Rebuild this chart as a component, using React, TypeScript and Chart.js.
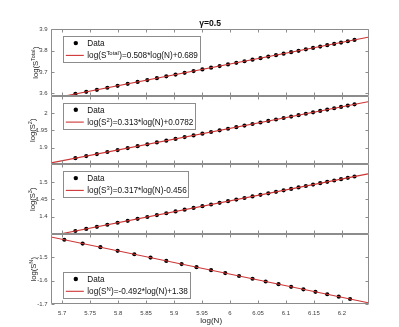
import React, { useEffect, useRef } from 'react';
import { Chart, registerables } from 'chart.js';
Chart.register(...registerables);

// ---------- data ----------
const logN_A = [5.72359, 5.743, 5.76205, 5.78074, 5.79909, 5.81711, 5.83481, 5.8522, 5.8693, 5.8861, 5.90263, 5.91889, 5.93489, 5.95064, 5.96615, 5.98141, 5.99645, 6.01127, 6.02587, 6.04025, 6.05444, 6.06843, 6.08222, 6.09583, 6.10925, 6.1225, 6.13557, 6.14847, 6.16121, 6.17379, 6.18621, 6.19848, 6.2106, 6.22258];
const logN_B = [5.70378, 5.73657, 5.76832, 5.79909, 5.82895, 5.85793, 5.8861, 5.9135, 5.94017, 5.96615, 5.99146, 6.01616, 6.04025, 6.06379, 6.08677, 6.10925, 6.13123, 6.15273, 6.17379, 6.19441, 6.21461];

const sTotal = [3.5966, 3.6064, 3.6161, 3.6256, 3.6349, 3.6441, 3.6531, 3.6619, 3.6706, 3.6791, 3.6875, 3.6958, 3.7039, 3.7119, 3.7198, 3.7276, 3.7352, 3.7427, 3.7501, 3.7575, 3.7647, 3.7718, 3.7788, 3.7857, 3.7925, 3.7992, 3.8059, 3.8124, 3.8189, 3.8253, 3.8316, 3.8378, 3.844, 3.8501];
const s2 = [1.8697, 1.8758, 1.8817, 1.8876, 1.8933, 1.899, 1.9045, 1.9099, 1.9153, 1.9206, 1.9257, 1.9308, 1.9358, 1.9408, 1.9456, 1.9504, 1.9551, 1.9597, 1.9643, 1.9688, 1.9732, 1.9776, 1.9819, 1.9862, 1.9904, 1.9945, 1.9986, 2.0027, 2.0067, 2.0106, 2.0145, 2.0183, 2.0221, 2.0259];
const s3 = [1.3584, 1.3645, 1.3706, 1.3765, 1.3823, 1.388, 1.3936, 1.3991, 1.4046, 1.4099, 1.4151, 1.4203, 1.4254, 1.4304, 1.4353, 1.4401, 1.4449, 1.4496, 1.4542, 1.4588, 1.4633, 1.4677, 1.4721, 1.4764, 1.4806, 1.4848, 1.489, 1.4931, 1.4971, 1.5011, 1.505, 1.5089, 1.5128, 1.5166];
const sN = [-1.4263, -1.4424, -1.458, -1.4732, -1.4878, -1.5021, -1.516, -1.5294, -1.5426, -1.5553, -1.5678, -1.58, -1.5918, -1.6034, -1.6147, -1.6258, -1.6366, -1.6471, -1.6575, -1.6676, -1.6776];

const slopes = [0.508, 0.313, 0.317, -0.492];
const intercepts = [0.689, 0.0782, -0.456, 1.38];
const supLabels = ['Total', '2', '3', 'N'];

const xRange = [5.68, 6.249];
const xTicks = [5.7, 5.75, 5.8, 5.85, 5.9, 5.95, 6, 6.05, 6.1, 6.15, 6.2];
const xTickLabels = ['5.7', '5.75', '5.8', '5.85', '5.9', '5.95', '6', '6.05', '6.1', '6.15', '6.2'];

const yRange1 = [3.587, 3.9];
const yRange2 = [1.852, 2.05];
const yRange3 = [1.3497, 1.552];
const yRange4 = [-1.7, -1.402];
const yTicks1 = [3.6, 3.7, 3.8, 3.9];
const yTicks2 = [1.9, 1.95, 2];
const yTicks3 = [1.4, 1.45, 1.5];
const yTicks4 = [-1.7, -1.6, -1.5];
const yTickLabels1 = ['3.6', '3.7', '3.8', '3.9'];
const yTickLabels2 = ['1.9', '1.95', '2'];
const yTickLabels3 = ['1.4', '1.45', '1.5'];
const yTickLabels4 = ['-1.7', '-1.6', '-1.5'];

const titleText = 'γ=0.5';
const xTitle = 'log(N)';
const dataLabel = 'Data';

// ---------- styling ----------
const FONT = '"Liberation Sans", Arial, Helvetica, sans-serif';
const AXIS_COLOR = '#8c8c8c';
const TICK_TEXT = '#404040';
const LINE_COLOR = 'rgb(206, 52, 52)';
const TICK_FONT_SIZE = 6;
const TICK_PAD = 3.5;
const panelWeights = [66.7, 68.3, 69.7, 70.3];
const legendSouth = [false, false, false, true];

type Part = { t: string; sup?: boolean };

function drawRich(ctx: CanvasRenderingContext2D, x: number, y: number, parts: Part[], base: number, measureOnly = false) {
  let cx = x;
  for (const p of parts) {
    const size = p.sup ? base * 0.72 : base;
    ctx.font = `${size}px ${FONT}`;
    const dy = p.sup ? -base * 0.42 : 0;
    if (!measureOnly) ctx.fillText(p.t, cx, y + dy);
    cx += ctx.measureText(p.t).width + (p.sup ? 0.3 : 0);
  }
  return cx - x;
}

function fmtSigned(v: number) {
  return v >= 0 ? '+' + String(v) : String(v);
}

export default function App() {
  const ref = useRef<HTMLCanvasElement | null>(null);

  useEffect(() => {
    if (!ref.current) return;
    const ids = ['y1', 'y2', 'y3', 'y4'];
    const ranges = [yRange1, yRange2, yRange3, yRange4];
    const ticks = [yTicks1, yTicks2, yTicks3, yTicks4];
    const tickLabels = [yTickLabels1, yTickLabels2, yTickLabels3, yTickLabels4];
    const series = [sTotal, s2, s3, sN];
    const xsFor = [logN_A, logN_A, logN_A, logN_B];

    const datasets: any[] = [];
    series.forEach((s, i) => {
      datasets.push({
        type: 'scatter',
        label: dataLabel,
        data: s.map((v, k) => ({ x: xsFor[i][k], y: v })),
        yAxisID: ids[i],
        xAxisID: 'x',
        backgroundColor: '#000',
        borderColor: '#000',
        pointRadius: 2.1,
        pointBorderWidth: 0,
        showLine: false,
        order: 2,
      });
      datasets.push({
        type: 'line',
        label: 'fit',
        data: xRange.map((x) => ({ x, y: slopes[i] * x + intercepts[i] })),
        yAxisID: ids[i],
        xAxisID: 'x',
        borderColor: LINE_COLOR,
        borderWidth: 1.1,
        pointRadius: 0,
        fill: false,
        order: 1,
      });
    });

    const scales: any = {
      x: {
        type: 'linear',
        position: 'bottom',
        min: xRange[0],
        max: xRange[1],
        afterBuildTicks: (sc: any) => {
          sc.ticks = xTicks.map((v) => ({ value: v }));
        },
        afterFit: (sc: any) => {
          sc.height = 22.7;
        },
        grid: { display: false, drawTicks: false },
        border: { display: false },
        ticks: {
          autoSkip: false,
          maxRotation: 0,
          padding: 5,
          color: TICK_TEXT,
          font: { family: FONT, size: TICK_FONT_SIZE },
          callback: (_v: any, idx: number) => xTickLabels[idx],
        },
      },
    };
    ids.forEach((id, i) => {
      scales[id] = {
        type: 'linear',
        position: 'left',
        stack: 'panels',
        stackWeight: panelWeights[i],
        weight: 4 - i,
        offset: false,
        min: ranges[i][0],
        max: ranges[i][1],
        afterBuildTicks: (sc: any) => {
          sc.ticks = ticks[i].map((v) => ({ value: v }));
        },
        afterFit: (sc: any) => {
          sc.width = 51;
        },
        grid: { display: false, drawTicks: false },
        border: { display: false },
        ticks: {
          padding: TICK_PAD,
          color: TICK_TEXT,
          font: { family: FONT, size: TICK_FONT_SIZE },
          callback: (_v: any, idx: number) => tickLabels[i][idx],
        },
      };
    });

    const panelPlugin = {
      id: 'panelPlugin',
      beforeDatasetDraw(chart: any, args: any) {
        const ctx = chart.ctx;
        const ys = args.meta.yScale;
        const a = chart.chartArea;
        ctx.save();
        ctx.beginPath();
        ctx.rect(a.left, ys.top, a.right - a.left, ys.bottom - ys.top);
        ctx.clip();
      },
      afterDatasetDraw(chart: any) {
        chart.ctx.restore();
      },
      afterDraw(chart: any) {
        const ctx: CanvasRenderingContext2D = chart.ctx;
        const a = chart.chartArea;
        const xs = chart.scales.x;
        ctx.save();
        const L = Math.round(a.left) + 0.5;
        const R = Math.round(a.right) - 0.5;
        ids.forEach((id, i) => {
          const ys = chart.scales[id];
          const T = Math.round(ys.top) + 0.5;
          const B = Math.round(ys.bottom) - 0.5;
          ctx.strokeStyle = AXIS_COLOR;
          ctx.lineWidth = 1;
          ctx.beginPath();
          ctx.rect(L, T, R - L, B - T);
          ctx.stroke();
          ctx.beginPath();
          xTicks.forEach((v) => {
            const px = Math.round(xs.getPixelForValue(v)) + 0.5;
            ctx.moveTo(px, T);
            ctx.lineTo(px, T + 3);
            ctx.moveTo(px, B);
            ctx.lineTo(px, B - 3);
          });
          ticks[i].forEach((v) => {
            const py = Math.round(ys.getPixelForValue(v)) + 0.5;
            ctx.moveTo(L, py);
            ctx.lineTo(L + 3, py);
            ctx.moveTo(R, py);
            ctx.lineTo(R - 3, py);
          });
          ctx.stroke();

          // legend
          const base = 8.2;
          const eqParts: Part[] = [
            { t: 'log(S' },
            { t: supLabels[i], sup: true },
            { t: ')=' + String(slopes[i]) + '*log(N)' + fmtSigned(intercepts[i]) },
          ];
          const tw = drawRich(ctx, 0, 0, eqParts, base, true);
          const bw = 24 + tw + 2;
          const bh = 26.3;
          const bx = a.left + 12.3;
          const by = legendSouth[i] ? ys.bottom - 6 - bh : ys.top + 6.8;
          ctx.fillStyle = '#fff';
          ctx.fillRect(bx, by, bw, bh);
          ctx.strokeStyle = AXIS_COLOR;
          ctx.strokeRect(Math.round(bx) + 0.5, Math.round(by) + 0.5, Math.round(bw), Math.round(bh));
          const r1 = by + 7;
          const r2 = by + 19.3;
          ctx.fillStyle = '#000';
          ctx.beginPath();
          ctx.arc(bx + 12.5, r1, 2.2, 0, Math.PI * 2);
          ctx.fill();
          ctx.strokeStyle = LINE_COLOR;
          ctx.lineWidth = 1.1;
          ctx.beginPath();
          ctx.moveTo(bx + 2.5, r2);
          ctx.lineTo(bx + 20.5, r2);
          ctx.stroke();
          ctx.fillStyle = '#111';
          ctx.textBaseline = 'alphabetic';
          ctx.textAlign = 'left';
          drawRich(ctx, bx + 24, r1 + 3, [{ t: dataLabel }], base);
          drawRich(ctx, bx + 24, r2 + 3, eqParts, base);

          // y label, placed left of the widest tick label
          ctx.font = `${TICK_FONT_SIZE}px ${FONT}`;
          let maxW = 0;
          tickLabels[i].forEach((s) => {
            maxW = Math.max(maxW, ctx.measureText(s).width);
          });
          const labelX = a.left - TICK_PAD - maxW - 0.8;
          const yb = 7.6;
          const yParts: Part[] = [{ t: 'log(S' }, { t: supLabels[i], sup: true }, { t: ')' }];
          const yw = drawRich(ctx, 0, 0, yParts, yb, true);
          ctx.save();
          ctx.translate(labelX, (ys.top + ys.bottom) / 2);
          ctx.rotate(-Math.PI / 2);
          ctx.fillStyle = '#262626';
          drawRich(ctx, -yw / 2, 0, yParts, yb);
          ctx.restore();
        });

        // title
        ctx.fillStyle = '#111';
        ctx.textAlign = 'center';
        ctx.textBaseline = 'middle';
        ctx.font = `bold 8.6px ${FONT}`;
        ctx.fillText(titleText, (a.left + a.right) / 2, 23.3);
        // x title
        ctx.fillStyle = '#262626';
        ctx.font = `8px ${FONT}`;
        ctx.fillText(xTitle, (a.left + a.right) / 2 + 1, 320.5);
        ctx.restore();
      },
    };

    const chart = new Chart(ref.current, {
      type: 'scatter',
      data: { datasets },
      options: {
        responsive: false,
        animation: false,
        devicePixelRatio: 1,
        layout: { padding: { top: 29.3, right: 29.7, bottom: 0, left: 0 } },
        plugins: { legend: { display: false }, tooltip: { enabled: false }, title: { display: false } },
        scales,
      } as any,
      plugins: [panelPlugin],
    });
    return () => chart.destroy();
  }, []);

  return (
    <div style={{ position: 'absolute', left: 0, top: 0, width: 399, height: 327, background: '#fff' }}>
      <canvas ref={ref} width={399} height={327} style={{ display: 'block', width: 399, height: 327 }} />
    </div>
  );
}
